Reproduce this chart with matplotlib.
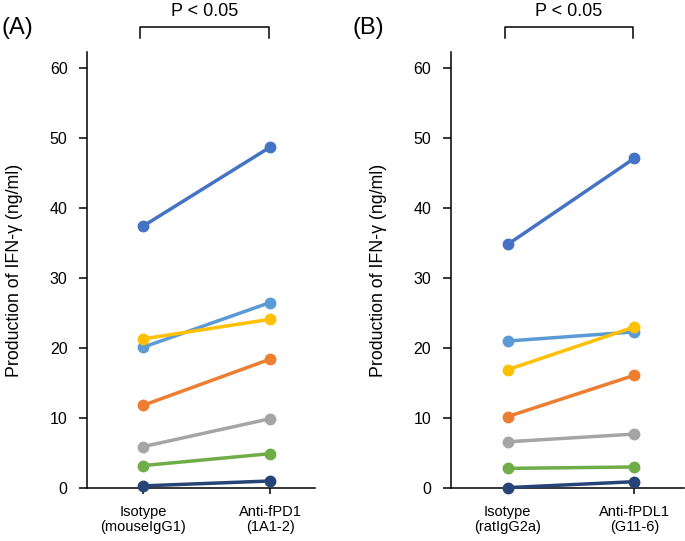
import matplotlib.pyplot as plt

plt.rcParams["font.family"] = ["Liberation Sans", "DejaVu Sans"]

# Data
groups_a = ["Isotype\n(mouseIgG1)", "Anti-fPD1\n(1A1-2)"]
groups_b = ["Isotype\n(ratIgG2a)", "Anti-fPDL1\n(G11-6)"]

colors = ["#4472C4", "#5B9BD5", "#FFC000", "#ED7D31", "#A5A5A5", "#70AD47", "#264478"]

# one pair (isotype, antibody) per cat, same order as colors
pairs_a = [
    [37.4, 48.7],
    [20.1, 26.5],
    [21.3, 24.1],
    [11.8, 18.4],
    [5.9, 9.9],
    [3.2, 4.9],
    [0.3, 1.0],
]
pairs_b = [
    [34.8, 47.1],
    [21.0, 22.3],
    [16.9, 23.0],
    [10.2, 16.1],
    [6.6, 7.7],
    [2.8, 3.0],
    [0.05, 0.9],
]

fig = plt.figure(figsize=(6.85, 5.41), dpi=100)
ax_a = fig.add_axes([0.127, 0.098, 0.333, 0.806])
ax_b = fig.add_axes([0.658, 0.098, 0.340, 0.806])


def draw_panel(ax, pairs, labels, xlim):
    for vals, c in zip(pairs, colors):
        ax.plot([0, 1], vals, color=c, lw=2.5, marker="o", ms=7.5, clip_on=False, zorder=3)
    ax.set_xlim(*xlim)
    ax.set_ylim(0, 62.3)
    ax.set_yticks([0, 10, 20, 30, 40, 50, 60])
    ax.set_xticks([0, 1])
    ax.set_xticklabels(labels, fontsize=10.5, linespacing=1.15)
    ax.tick_params(axis="y", length=6, width=1.1, labelsize=11.5, pad=8)
    ax.tick_params(axis="x", length=4, width=1.1, pad=8)
    ax.spines["top"].set_visible(False)
    ax.spines["right"].set_visible(False)
    ax.spines["left"].set_linewidth(1.1)
    ax.spines["bottom"].set_linewidth(1.1)
    ax.set_ylabel("Production of IFN-γ (ng/ml)", fontsize=12.8)
    w = ax.get_position().width * 685
    ax.yaxis.set_label_coords(-64 / w, 0.5)

    # significance bracket
    ax.plot([-0.02, -0.02, 0.99, 0.99], [64.3, 65.9, 65.9, 64.3], color="black", lw=1.1, clip_on=False)
    ax.text(0.485, 66.9, "P < 0.05", ha="center", va="bottom", fontsize=13)


draw_panel(ax_a, pairs_a, groups_a, (-0.44, 1.354))
draw_panel(ax_b, pairs_b, groups_b, (-0.45, 1.39))

fig.text(0.002, 0.948, "(A)", fontsize=17, ha="left", va="center")
fig.text(0.515, 0.948, "(B)", fontsize=17, ha="left", va="center")

plt.savefig("out.png", dpi=100)
